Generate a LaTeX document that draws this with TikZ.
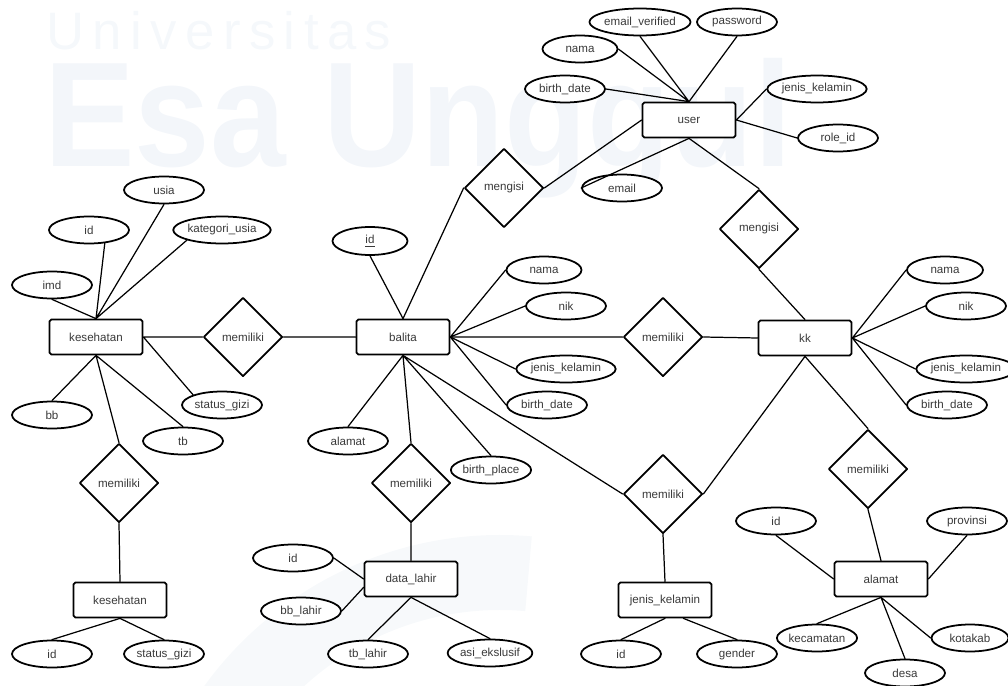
\documentclass[tikz,border=0pt]{standalone}
\usepackage{fontspec}
\setmainfont{Liberation Sans}
\newfontfamily\wmthin[LetterSpace=16]{Liberation Sans}
\usetikzlibrary{shapes.geometric}

\definecolor{wmark}{HTML}{F3F6FA}
\definecolor{txt}{HTML}{3A3A3A}

\tikzset{
	entity/.style={draw, fill=white, rounded corners=1pt, line width=1pt, minimum width=1.86cm, minimum height=0.7cm, inner sep=0pt},
	rel/.style={draw, fill=white, diamond, aspect=1, line width=1pt, minimum width=1.58cm, minimum height=1.58cm, inner sep=0pt},
	attr/.style={draw, fill=white, ellipse, line width=1pt, minimum width=1.6cm, minimum height=0.54cm, inner sep=0pt},
	link/.style={line width=0.7pt}
}

\begin{document}
\begin{tikzpicture}[x=0.02cm, y=-0.02cm, font=\fontsize{6.6}{7.8}\selectfont, text=txt, line join=round, line cap=round]
	\useasboundingbox (0,0) rectangle (1008,686);
	
	% watermark
	\fill[wmark!70] (500,900) ++(195:365) arc (195:275:365) -- ++(95:75) arc (275:195:290) -- cycle;
	\node[anchor=base west, inner sep=0pt, text=wmark!80] (wm1) at (46,50) {\fontsize{30}{30}\selectfont\wmthin Universitas};
	\node[anchor=base west, inner sep=0pt, text=wmark] (wm2) at (44,167) {\scalebox{0.91}[1]{\fontsize{85}{85}\selectfont\bfseries Esa Unggul}};
	
	% entities
	\node[entity] (user) at (689,120) {user};
	\node[entity] (kes) at (96,337) {kesehatan};
	\node[entity] (balita) at (403,337) {balita};
	\node[entity] (kk) at (805,338) {kk};
	\node[entity] (kes2) at (120,600) {kesehatan};
	\node[entity] (lahir) at (411,579) {data\_lahir};
	\node[entity] (jk) at (665,600) {jenis\_kelamin};
	\node[entity] (alamat) at (881,579) {alamat};
	
	% relations
	\node[rel] (mengisiA) at (504,188) {mengisi};
	\node[rel] (mengisiB) at (759,229) {mengisi};
	\node[rel] (milikiA) at (243,337) {memiliki};
	\node[rel] (milikiB) at (663,337) {memiliki};
	\node[rel] (milikiC) at (119,483) {memiliki};
	\node[rel] (milikiD) at (411,483) {memiliki};
	\node[rel] (milikiE) at (663,494) {memiliki};
	\node[rel] (milikiF) at (868,469) {memiliki};
	
	% attributes of user
	\node[attr] (uEmailv) at (640,22) {email\_verified};
	\node[attr] (uPass) at (737,22) {password};
	\node[attr, minimum width=1.5cm] (uNama) at (580,49) {nama};
	\node[attr] (uBirth) at (565,89) {birth\_date};
	\node[attr] (uJk) at (817,89) {jenis\_kelamin};
	\node[attr] (uRole) at (838,138) {role\_id};
	\node[attr] (uEmail) at (622,188) {email};
	
	% attributes of kesehatan
	\node[attr] (kUsia) at (164,190) {usia};
	\node[attr] (kId) at (89,230) {id};
	\node[attr] (kKat) at (222,230) {kategori\_usia};
	\node[attr] (kImd) at (52,285) {imd};
	\node[attr] (kStatus) at (222,405) {status\_gizi};
	\node[attr] (kBb) at (52,415) {bb};
	\node[attr] (kTb) at (183,441) {tb};
	
	% attributes of balita
	\node[attr, minimum width=1.5cm, minimum height=0.56cm] (bId) at (370,241) {\underline{id}};
	\node[attr, minimum width=1.5cm] (bNama) at (544,270) {nama};
	\node[attr] (bNik) at (566,306) {nik};
	\node[attr] (bJk) at (566,369) {jenis\_kelamin};
	\node[attr] (bBirth) at (547,405) {birth\_date};
	\node[attr] (bAlamat) at (348,441) {alamat};
	\node[attr] (bPlace) at (491,470) {birth\_place};
	
	% attributes of kk
	\node[attr, minimum width=1.52cm] (kkNama) at (945,270) {nama};
	\node[attr] (kkNik) at (966,306) {nik};
	\node[attr] (kkJk) at (966,369) {jenis\_kelamin};
	\node[attr] (kkBirth) at (947,405) {birth\_date};
	
	% attributes of the lower entities
	\node[attr] (k2Id) at (52,654) {id};
	\node[attr] (k2Status) at (164,654) {status\_gizi};
	\node[attr] (lId) at (293,558) {id};
	\node[attr] (lBb) at (301,611) {bb\_lahir};
	\node[attr] (lTb) at (368,654) {tb\_lahir};
	\node[attr] (lAsi) at (490,653) {asi\_ekslusif};
	\node[attr] (jId) at (621,654) {id};
	\node[attr] (jGender) at (737,654) {gender};
	\node[attr] (aId) at (776,521) {id};
	\node[attr] (aProv) at (967,521) {provinsi};
	\node[attr] (aKec) at (817,638) {kecamatan};
	\node[attr, minimum width=1.54cm] (aKota) at (970,638) {kotakab};
	\node[attr] (aDesa) at (905,673) {desa};
	
	% user links
	\draw[link] (user.north) -- (uNama.east) (user.north) -- (uEmailv.south) (user.north) -- (uPass.south) (user.north) -- (uBirth.east);
	\draw[link] (user.east) -- (uJk.west) (user.east) -- (uRole.west) (user.south) -- (uEmail.west);
	\draw[link] (user.west) -- (mengisiA.east) (mengisiA.west) -- (balita.north);
	\draw[link] (user.south) -- (mengisiB.north) (mengisiB.south) -- (kk.north);
	
	% kesehatan links
	\draw[link] (kes.north) -- (kImd.south) (kes.north) -- (kId.-40) (kes.north) -- (kUsia.south) (kes.north) -- (kKat.south west);
	\draw[link] (kes.south) -- (kBb.north) (kes.south) -- (kTb.north) (kes.south) -- (milikiC.north);
	\draw[link] (kes.east) -- (kStatus.north west) (kes.east) -- (milikiA.west) (milikiA.east) -- (balita.west);
	
	% balita links
	\draw[link] (balita.north) -- (bId.south);
	\draw[link] (balita.east) -- (bNama.west) (balita.east) -- (bNik.west) (balita.east) -- (bJk.west) (balita.east) -- (bBirth.west);
	\draw[link] (balita.east) -- (milikiB.west) (milikiB.east) -- (kk.west);
	\draw[link] (balita.south) -- (bAlamat.north) (balita.south) -- (milikiD.north) (balita.south) -- (bPlace.north) (balita.south) -- (milikiE.west);
	
	% kk links
	\draw[link] (kk.east) -- (kkNama.west) (kk.east) -- (kkNik.west) (kk.east) -- (kkJk.west) (kk.east) -- (kkBirth.west);
	\draw[link] (kk.south) -- (milikiE.east) (kk.south) -- (milikiF.north);
	
	% lower links
	\draw[link] (milikiC.south) -- (kes2.north) (kes2.south) -- (k2Id.north) (kes2.south) -- (k2Status.north);
	\draw[link] (milikiD.south) -- (lahir.north) (lahir.west) -- (lId.east) (lahir.190) -- (lBb.east);
	\draw[link] (lahir.south) -- (lTb.north) (lahir.south) -- (lAsi.north);
	\draw[link] (milikiE.south) -- (jk.north) (jk.south) -- (jId.north) (jk.-45) -- (jGender.north);
	\draw[link] (milikiF.south) -- (alamat.north) (alamat.west) -- (aId.south) (alamat.east) -- (aProv.south);
	\draw[link] (alamat.south) -- (aKec.north) (alamat.south) -- (aDesa.north) (alamat.south) -- (aKota.west);
\end{tikzpicture}
\end{document}
